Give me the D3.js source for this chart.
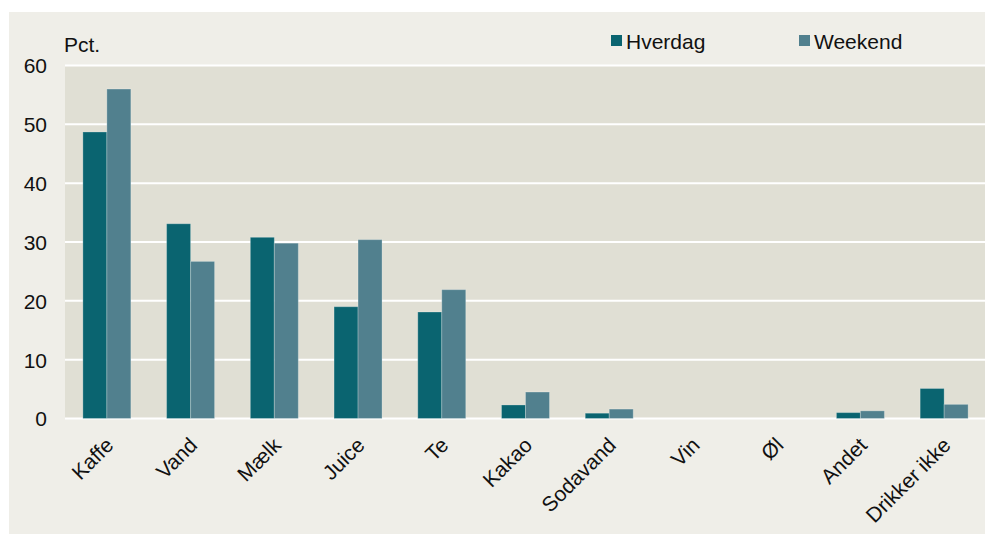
<!DOCTYPE html>
<html>
<head>
<meta charset="utf-8">
<script src="https://cdn.jsdelivr.net/npm/d3@7/dist/d3.min.js"></script>
<style>
  html, body { margin: 0; padding: 0; background: #ffffff; }
  svg { display: block; }
  text { font-family: "Liberation Sans", Arial, sans-serif; fill: #111; }
</style>
</head>
<body>
<svg id="chart" width="985" height="534"></svg>
<script>
// Drinks by weekday / weekend, percent
const categories = ["Kaffe", "Vand", "Mælk", "Juice", "Te", "Kakao", "Sodavand", "Vin", "Øl", "Andet", "Drikker ikke"];
const seriesNames = ["Hverdag", "Weekend"];
const hverdag = [48.7, 33.1, 30.8, 19.0, 18.1, 2.3, 0.9, 0, 0, 1.0, 5.1];
const weekend = [56.0, 26.7, 29.8, 30.4, 21.9, 4.5, 1.6, 0, 0, 1.3, 2.4];
const yTicks = [0, 10, 20, 30, 40, 50, 60];
const colors = ["#0a6470", "#51808e"];

const svg = d3.select("#chart");
const W = 985, H = 534;
const plot = { left: 65, right: 986, top: 65.5, bottom: 418.5 };
const fontSize = 21;

// outer panel
svg.append("rect").attr("x", 9).attr("y", 12).attr("width", W - 9).attr("height", H - 12).attr("fill", "#efeee8");

// plot background
svg.append("rect")
  .attr("x", plot.left).attr("y", plot.top)
  .attr("width", plot.right - plot.left).attr("height", plot.bottom - plot.top)
  .attr("fill", "#e0dfd4");

const y = d3.scaleLinear().domain([0, 60]).range([plot.bottom, plot.top]);
const x0 = d3.scaleBand().domain(categories).range([plot.left, plot.right])
  .paddingInner(0.427).paddingOuter(0.2135);
const x1 = d3.scaleBand().domain(seriesNames).range([0, x0.bandwidth()]);

// gridlines
svg.append("g").selectAll("line").data(yTicks).join("line")
  .attr("x1", plot.left).attr("x2", plot.right)
  .attr("y1", d => y(d)).attr("y2", d => y(d))
  .attr("stroke", "#ffffff").attr("stroke-width", 2);

// y axis labels
const yAxis = d3.axisLeft(y).tickValues(yTicks).tickSize(0).tickPadding(0);
const yg = svg.append("g").attr("transform", `translate(47,0)`).call(yAxis);
yg.select(".domain").remove();
yg.selectAll("text").attr("font-size", fontSize).attr("font-family", "Liberation Sans, Arial, sans-serif").attr("fill", "#111").attr("dy", "0.35em");

svg.append("text").attr("x", 64).attr("y", 52).attr("font-size", fontSize).text("Pct.");

// bars
const rows = categories.map((c, i) => ({ cat: c, vals: [hverdag[i], weekend[i]] }));
const groups = svg.append("g").selectAll("g").data(rows).join("g")
  .attr("transform", d => `translate(${x0(d.cat)},0)`);
groups.selectAll("rect")
  .data(d => d.vals.map((v, k) => ({ name: seriesNames[k], v, k })).filter(e => e.v > 0))
  .join("rect")
  .attr("x", d => x1(d.name))
  .attr("width", x1.bandwidth())
  .attr("y", d => y(d.v))
  .attr("height", d => y(0) - y(d.v))
  .attr("fill", d => colors[d.k])
  .attr("stroke", "rgba(255,255,255,0.25)")
  .attr("stroke-width", 1);

// x axis labels (rotated)
const xg = svg.append("g");
xg.selectAll("text").data(categories).join("text")
  .attr("text-anchor", "end")
  .attr("font-size", fontSize)
  .attr("transform", d => `translate(${x0(d) + x0.bandwidth() / 2 + 8},${plot.bottom + 28}) rotate(-45)`)
  .text(d => d);

// legend
const legendX = [611, 799];
const lg = svg.append("g");
seriesNames.forEach((n, k) => {
  lg.append("rect").attr("x", legendX[k]).attr("y", 35).attr("width", 11).attr("height", 11).attr("fill", colors[k]);
  lg.append("text").attr("x", legendX[k] + 15).attr("y", 49).attr("font-size", fontSize).text(n);
});
</script>
</body>
</html>
